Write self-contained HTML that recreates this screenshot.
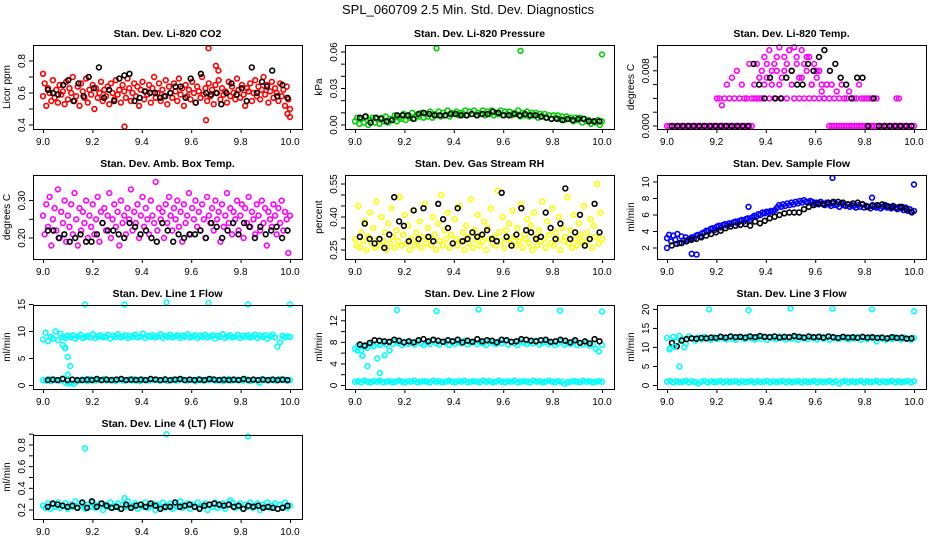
<!DOCTYPE html>
<html><head><meta charset="utf-8"><style>
body{margin:0;background:#fff}
svg{display:block;font-family:"Liberation Sans",sans-serif}
</style></head><body>
<svg id="chart" width="936" height="540" viewBox="0 0 936 540" xmlns="http://www.w3.org/2000/svg">
<rect width="936" height="540" fill="#fff"/>
<text x="468" y="14" font-size="13" text-anchor="middle">SPL_060709  2.5 Min. Std. Dev. Diagnostics</text>
</svg>
<script>
const xTicks=[9.0,9.2,9.4,9.6,9.8,10.0];
const xTickLabels=["9.0","9.2","9.4","9.6","9.8","10.0"];
const co2Red=[0.58,0.66,0.52,0.63,0.60,0.55,0.68,0.57,0.62,0.54,0.65,0.59,0.61,0.53,0.67,0.56,0.63,0.60,0.70,0.55,0.58,0.64,0.52,0.66,0.61,0.57,0.69,0.54,0.62,0.59,0.65,0.50,0.63,0.57,0.60,0.67,0.55,0.62,0.58,0.64,0.53,0.66,0.60,0.56,0.68,0.59,0.62,0.54,0.65,0.61,0.57,0.69,0.63,0.55,0.60,0.66,0.58,0.64,0.52,0.62,0.67,0.56,0.61,0.59,0.65,0.54,0.63,0.70,0.57,0.60,0.66,0.55,0.62,0.58,0.68,0.53,0.64,0.60,0.57,0.66,0.61,0.55,0.69,0.59,0.63,0.52,0.65,0.58,0.62,0.56,0.67,0.60,0.54,0.64,0.61,0.57,0.70,0.59,0.63,0.55,0.66,0.58,0.62,0.53,0.65,0.60,0.68,0.56,0.63,0.59,0.61,0.54,0.67,0.58,0.64,0.60,0.56,0.69,0.62,0.57,0.65,0.59,0.52,0.63,0.61,0.66,0.55,0.60,0.68,0.58,0.64,0.56,0.62,0.70,0.59,0.65,0.54,0.61,0.67,0.57,0.63,0.60,0.55,0.66,0.58,0.62,0.52,0.64,0.56,0.50];
const co2Black=[0.62,0.60,0.59,0.65,0.68,0.55,0.66,0.58,0.70,0.63,0.76,0.57,0.62,0.55,0.69,0.71,0.72,0.55,0.57,0.61,0.60,0.60,0.57,0.58,0.60,0.64,0.64,0.57,0.69,0.54,0.72,0.60,0.59,0.60,0.53,0.60,0.66,0.59,0.63,0.55,0.76,0.60,0.67,0.64,0.74,0.58,0.65,0.57];
const co2OutX=[9.0,9.33,9.67,9.66,9.70,9.71,10.0,9.99];
const co2OutY=[0.72,0.39,0.88,0.43,0.77,0.74,0.45,0.47];
const presGreen=[0.003,0.006,0.001,0.005,0.002,0.007,0.000,0.004,0.006,0.002,0.005,0.001,0.006,0.003,0.007,0.002,0.005,0.004,0.008,0.003,0.006,0.005,0.009,0.004,0.007,0.006,0.010,0.005,0.008,0.007,0.010,0.006,0.009,0.007,0.011,0.006,0.009,0.008,0.011,0.007,0.010,0.008,0.012,0.007,0.010,0.009,0.011,0.008,0.010,0.009,0.012,0.008,0.011,0.009,0.012,0.008,0.010,0.009,0.012,0.008,0.011,0.009,0.012,0.008,0.010,0.009,0.012,0.008,0.011,0.009,0.011,0.008,0.010,0.009,0.012,0.007,0.010,0.008,0.011,0.007,0.010,0.008,0.010,0.006,0.009,0.007,0.009,0.006,0.008,0.005,0.008,0.006,0.008,0.005,0.007,0.004,0.007,0.005,0.006,0.003,0.006,0.004,0.006,0.002,0.005,0.003,0.004,0.001,0.003,0.002,0.004,0.000,0.003];
const presBlack=[0.006,0.007,0.002,0.006,0.005,0.003,0.004,0.008,0.008,0.008,0.005,0.009,0.010,0.009,0.008,0.008,0.008,0.009,0.009,0.008,0.008,0.009,0.008,0.009,0.009,0.011,0.010,0.008,0.008,0.009,0.008,0.009,0.008,0.008,0.007,0.006,0.005,0.005,0.004,0.005,0.004,0.005,0.005,0.003,0.003,0.003];
const presOutX=[9.33,9.67,10.0];
const presOutY=[0.063,0.061,0.058];
const tempMagA=[0,0,0,0,0,0,0,0,0,0,0,0,0,0,0,0,0,0,0,0,0,0,0,0,0,0,0,0,0,0,0,0,0,0,0,0.006,0.009,0.004,0.008,0.010,0.007,0.011,0.006,0.009,0.008,0.0114,0.007,0.010,0.009,0.011,0.008,0.0114,0.010,0.007,0.011,0.009,0.008,0.010,0.006,0.009,0.007,0.008,0.005,0.004,0.006,0,0,0,0,0,0,0,0,0,0,0,0,0,0,0,0,0,0,0,0,0,0,0,0,0,0,0,0,0,0,0,0,0,0,0];
const tempMagB=[null,null,null,null,null,null,null,null,null,null,null,null,null,null,null,null,null,null,null,null,0.004,0.004,0.003,0.004,0.006,0.004,0.007,0.004,0.008,0.004,0.006,0.004,0.004,0.009,0.004,0.004,0.004,0.007,0.004,0.006,0.009,0.004,0.008,0.004,0.010,0.006,0.004,0.008,0.004,0.011,0.006,0.004,0.009,0.004,0.007,0.004,0.010,0.004,0.006,0.004,0.008,0.004,0.006,0.004,0.006,0.004,0.006,0.004,0.005,0.004,0.006,0.004,0.004,0.005,0.004,0.004,0.004,0.006,0.004,0.004,0.004,0.004,0.004,0.004,0.004,null,null,null,null,null,null,null,0.004,0.004,null,null,null,null,null,null];
const tempBlack=[0,0,0,0,0,0,0,0,0,0,0,0,0,0,0,0.009,0.006,0.004,0.007,0.004,0.004,0.007,0.008,0.006,0.006,0.009,0.008,0.010,0.011,0.008,0.009,0.007,0.006,0.004,0.007,0.007,0,0.004,0,0,0,0,0,0,0];
const ambMag=[0.26,0.21,0.29,0.23,0.31,0.18,0.25,0.28,0.22,0.33,0.20,0.27,0.24,0.30,0.19,0.26,0.23,0.29,0.21,0.32,0.25,0.18,0.28,0.22,0.27,0.24,0.30,0.20,0.26,0.23,0.29,0.21,0.25,0.31,0.19,0.27,0.24,0.28,0.22,0.26,0.32,0.20,0.25,0.29,0.23,0.27,0.18,0.30,0.24,0.26,0.21,0.28,0.25,0.33,0.22,0.27,0.24,0.29,0.20,0.26,0.31,0.23,0.28,0.25,0.21,0.30,0.26,0.24,0.35,0.22,0.28,0.25,0.27,0.20,0.29,0.24,0.31,0.26,0.22,0.28,0.25,0.30,0.23,0.27,0.19,0.29,0.24,0.26,0.32,0.21,0.28,0.25,0.30,0.23,0.27,0.22,0.29,0.25,0.20,0.31,0.26,0.24,0.28,0.22,0.30,0.25,0.27,0.19,0.29,0.23,0.26,0.32,0.24,0.28,0.21,0.27,0.25,0.30,0.22,0.26,0.29,0.20,0.28,0.24,0.31,0.23,0.27,0.25,0.21,0.29,0.26,0.22,0.30,0.24,0.28,0.18,0.27,0.25,0.23,0.29,0.26,0.21,0.28,0.24,0.30,0.22,0.27,0.25,0.16,0.26];
const ambBlack=[0.22,0.22,0.20,0.21,0.19,0.20,0.21,0.19,0.19,0.21,0.24,0.22,0.22,0.21,0.20,0.24,0.23,0.21,0.22,0.20,0.19,0.24,0.22,0.19,0.21,0.20,0.21,0.21,0.22,0.20,0.24,0.23,0.20,0.22,0.24,0.21,0.24,0.23,0.20,0.23,0.21,0.22,0.23,0.20,0.22];
const rhYellow=[0.30,0.27,0.45,0.26,0.33,0.29,0.38,0.25,0.31,0.42,0.28,0.35,0.26,0.47,0.30,0.27,0.40,0.29,0.33,0.25,0.37,0.28,0.44,0.31,0.26,0.34,0.29,0.49,0.27,0.32,0.41,0.28,0.36,0.25,0.30,0.43,0.27,0.33,0.29,0.38,0.26,0.31,0.46,0.28,0.35,0.30,0.27,0.40,0.32,0.25,0.37,0.29,0.50,0.27,0.34,0.30,0.42,0.26,0.32,0.28,0.39,0.30,0.27,0.45,0.29,0.33,0.25,0.36,0.31,0.28,0.48,0.26,0.34,0.30,0.41,0.27,0.32,0.29,0.38,0.25,0.35,0.30,0.44,0.28,0.31,0.27,0.52,0.33,0.29,0.40,0.26,0.34,0.30,0.37,0.28,0.43,0.31,0.27,0.35,0.29,0.46,0.26,0.32,0.30,0.39,0.28,0.36,0.25,0.42,0.31,0.27,0.34,0.29,0.47,0.30,0.26,0.38,0.32,0.28,0.44,0.27,0.33,0.30,0.40,0.25,0.35,0.29,0.31,0.49,0.28,0.34,0.26,0.41,0.30,0.27,0.37,0.32,0.29,0.45,0.28,0.33,0.30,0.39,0.26,0.36,0.31,0.55,0.28,0.42,0.30];
const rhBlack=[0.31,0.37,0.30,0.28,0.30,0.26,0.32,0.49,0.38,0.36,0.29,0.43,0.30,0.44,0.31,0.29,0.46,0.39,0.35,0.28,0.44,0.29,0.30,0.33,0.31,0.32,0.34,0.30,0.29,0.51,0.31,0.27,0.32,0.44,0.34,0.33,0.30,0.31,0.42,0.35,0.30,0.37,0.53,0.30,0.33,0.41,0.27,0.30,0.46,0.33];
const flowBlue=[3.2,3.6,2.8,3.5,3.0,3.7,2.6,3.4,2.9,3.3,3.0,3.1,3.3,3.2,3.5,3.6,3.4,3.8,3.9,4.1,4.0,4.3,4.4,4.2,4.6,4.7,4.5,4.8,4.9,4.7,5.0,4.9,5.1,5.2,5.0,5.3,5.4,5.2,5.5,5.6,5.4,5.7,5.9,5.8,6.1,6.0,6.3,6.2,6.4,6.3,6.5,6.4,6.6,6.9,7.2,7.0,7.3,7.1,7.4,7.2,7.5,7.3,7.6,7.4,7.7,7.5,7.8,7.6,7.5,7.7,7.6,7.4,7.5,7.3,7.6,7.4,7.2,7.5,7.3,7.1,7.4,7.2,7.3,7.0,7.4,7.2,7.1,7.3,7.0,7.2,7.1,6.9,7.2,7.0,7.3,6.9,7.1,7.0,6.8,7.2,7.0,6.9,7.1,6.8,7.0,7.2,6.9,7.0,6.8,7.1,6.9,6.7,7.0,6.8,6.6,6.9,6.5,6.7,6.3,6.5];
const flowBlack=[2.3,2.5,2.6,2.8,3.0,3.1,3.3,3.5,3.7,3.9,4.1,4.4,4.6,4.7,4.8,4.9,4.7,5.2,5.0,5.3,5.6,5.8,6.0,6.2,6.3,6.3,6.3,6.7,7.0,7.2,7.4,7.3,7.5,7.6,7.6,7.5,7.3,7.4,7.5,7.3,7.0,7.1,7.2,7.3,7.1,7.0,6.9,7.0,6.7,6.4];
const flowOutX=[9.0,9.1,9.12,9.33,9.67,9.83,10.0];
const flowOutY=[2.0,1.3,1.2,7.0,10.5,8.1,9.7];
const l1High=[8.5,9.8,8.2,9.0,8.7,10.0,8.4,9.6,9.0,8.8,9.2,8.9,9.3,8.7,9.1,9.4,8.8,9.0,9.2,8.9,9.5,8.8,9.1,9.3,8.9,9.0,9.4,8.7,9.2,9.0,9.5,8.9,9.1,9.3,8.8,9.2,9.0,9.4,8.9,9.1,9.6,8.8,9.2,9.0,9.3,8.9,9.1,9.5,8.8,9.2,9.0,9.4,8.9,9.1,9.3,8.8,9.2,9.0,9.5,8.9,9.1,9.3,8.8,9.2,9.0,9.4,8.9,9.1,9.3,8.7,9.2,9.0,9.5,8.8,9.1,9.3,8.9,9.0,9.4,8.8,9.2,9.0,9.3,8.9,9.1,9.4,8.8,9.2,9.0,9.3,8.7,9.1,9.4,8.9,7.2,8.0,9.2,8.9,9.1,9.0];
const l1Low=[1.0,0.9,1.2,0.8,1.1,1.0,0.9,1.3,0.6,0.4,0.5,0.3,0.7,0.9,1.1,1.0,0.8,1.2,1.0,0.9,1.1,1.0,1.2,0.9,1.0,1.1,0.8,1.0,1.2,0.9,1.0,1.1,0.9,1.2,1.0,0.8,1.1,1.0,0.9,1.2,1.0,1.1,0.9,1.0,1.2,0.8,1.0,1.1,0.9,1.0,1.2,1.0,0.9,1.1,1.0,0.8,1.2,1.0,0.9,1.1,1.0,1.2,0.9,1.0,1.1,0.8,1.0,1.2,0.9,1.0,1.1,1.0,0.9,1.2,1.0,0.8,1.1,1.0,0.5,1.2,1.0,0.9,1.1,1.0,0.9,1.2,1.0,1.1,0.9,1.0];
const l1Black=[1.0,1.1,1.0,1.2,1.0,1.1,1.0,1.0,1.1,1.0,1.2,1.0,1.1,1.0,1.1,1.2,1.0,1.1,1.0,1.1,1.0,1.2,1.1,1.0,1.1,1.0,1.1,1.2,1.0,1.1,1.0,1.1,1.0,1.2,1.1,1.0,1.1,1.0,1.1,1.0,1.2,1.0,1.1,1.0,1.1,1.0,1.1,1.0,1.1,1.0];
const l1OutX=[9.08,9.09,9.10,9.11,9.10,9.09,9.17,9.33,9.5,9.67,9.83,10.0];
const l1OutY=[7.5,6.9,5.3,3.6,2.0,7.0,15,15,15.4,15.3,15,15];
const l2High=[6.8,7.4,6.5,7.2,7.0,7.6,7.3,7.8,7.5,7.9,7.6,8.0,7.7,8.2,7.8,7.5,8.1,7.7,7.9,7.6,8.2,7.8,7.5,8.0,7.7,8.3,7.8,7.6,8.1,7.9,7.5,8.2,7.7,8.0,7.8,8.3,7.6,7.9,8.1,7.7,8.0,7.8,7.5,8.2,7.9,7.7,8.1,7.8,8.3,7.6,8.0,7.8,7.5,8.2,7.9,7.7,8.0,7.8,8.3,7.6,7.9,8.1,7.7,8.0,7.5,7.8,8.2,7.6,7.9,7.7,8.1,7.5,7.8,7.6,8.0,7.4,7.7,6.8,6.3,7.5];
const l2Low=[0.7,0.8,0.6,0.9,0.7,0.6,0.8,0.7,0.9,0.6,0.7,0.8,0.6,0.7,0.9,0.7,0.6,0.8,0.7,0.9,0.6,0.7,0.8,0.7,0.6,0.9,0.7,0.8,0.6,0.7,0.9,0.7,0.6,0.8,0.7,0.9,0.6,0.7,0.8,0.7,0.6,0.9,0.7,0.8,0.6,0.7,0.9,0.7,0.6,0.8,0.7,0.9,0.6,0.7,0.8,0.7,0.6,0.9,0.7,0.8,0.6,0.7,0.9,0.7,0.6,0.8,0.7,0.3,0.6,0.7,0.8,0.7,0.6,0.9,0.7,0.8,0.6,0.7,0.8,0.7];
const l2Black=[7.6,7.4,7.9,8.4,8.3,8.2,8.1,8.5,8.3,8.0,8.2,8.0,8.4,8.6,8.2,8.5,8.3,8.1,8.4,8.2,8.5,8.0,8.3,8.1,8.6,8.2,8.4,8.3,8.0,8.5,8.4,8.1,8.2,8.6,8.5,8.3,8.2,8.4,8.5,8.1,8.2,8.5,8.3,8.0,8.4,7.9,8.2,7.8,8.6,8.2];
const l2OutX=[9.01,9.03,9.05,9.09,9.10,9.12,9.14,9.17,9.33,9.5,9.67,9.83,10.0];
const l2OutY=[6.5,5.5,3.6,5.0,2.3,5.6,6.5,14,13.8,14.1,14.2,13.9,13.7];
const l3High=[12.5,9.8,12.8,11.5,13.0,12.2,11.0,12.9,12.4,11.8,12.6,12.1,12.8,12.3,12.0,12.6,12.2,12.9,12.4,12.1,12.7,12.3,12.0,12.8,12.5,12.2,12.9,12.4,12.1,12.7,12.3,12.6,12.0,12.8,12.4,12.2,12.9,12.5,12.1,12.7,12.3,12.6,12.0,12.8,12.4,12.2,12.7,12.5,12.1,12.9,12.3,12.6,12.0,12.8,12.4,12.2,12.7,12.5,12.1,12.6,12.3,12.8,12.0,12.5,12.2,12.7,12.4,11.6,12.6,12.3,12.0,12.5,12.2,12.7,12.4,12.1,12.6,12.3,12.0,12.5];
const l3Low=[1.0,1.2,0.8,1.1,0.9,1.0,1.2,0.8,1.1,0.9,0.5,1.0,1.2,0.8,1.1,0.9,1.0,1.2,0.8,1.1,0.9,1.0,1.2,0.8,1.1,0.9,1.0,1.2,0.8,1.1,0.9,1.0,1.2,0.8,1.1,0.9,1.0,1.2,0.8,1.1,0.9,1.0,1.2,0.8,1.1,0.9,1.0,1.2,0.8,1.1,0.9,1.0,1.2,0.8,1.1,0.5,1.0,1.2,0.8,1.1,0.9,1.0,1.2,0.8,1.1,0.9,1.0,1.2,0.8,1.1,0.9,1.0,1.2,0.8,1.1,0.9,1.0,1.2,0.8,1.1];
const l3Black=[11.2,10.3,11.8,12.2,12.4,12.3,12.5,12.4,12.6,12.5,12.8,12.6,12.9,12.7,12.8,12.6,12.9,12.7,13.0,12.8,12.7,12.9,12.6,12.8,12.7,13.0,12.8,12.6,12.9,12.7,12.8,12.6,12.9,12.7,12.5,12.8,12.6,12.7,12.5,12.8,12.6,12.7,12.5,12.6,12.4,12.7,12.5,12.6,12.3,12.4];
const l3OutX=[9.01,9.03,9.05,9.07,9.17,9.33,9.5,9.67,9.83,10.0];
const l3OutY=[9.5,10.2,5.0,10.0,20,19.8,20.3,20.2,20,19.5];
const l4Cyan=[0.24,0.22,0.26,0.21,0.25,0.23,0.27,0.22,0.24,0.26,0.21,0.25,0.23,0.28,0.22,0.24,0.26,0.21,0.25,0.23,0.27,0.22,0.24,0.26,0.20,0.25,0.23,0.27,0.22,0.24,0.26,0.21,0.25,0.23,0.28,0.22,0.24,0.26,0.21,0.25,0.23,0.27,0.22,0.24,0.26,0.20,0.25,0.23,0.27,0.22,0.24,0.26,0.21,0.25,0.23,0.28,0.22,0.24,0.26,0.21,0.25,0.23,0.27,0.22,0.24,0.26,0.20,0.25,0.23,0.27,0.22,0.24,0.26,0.21,0.25,0.29,0.27,0.22,0.24,0.26,0.21,0.25,0.23,0.27,0.22,0.24,0.26,0.20,0.25,0.23,0.27,0.22,0.24,0.26,0.21,0.25,0.23,0.27,0.22,0.24];
const l4Black=[0.23,0.26,0.25,0.24,0.23,0.24,0.22,0.27,0.22,0.28,0.23,0.26,0.24,0.22,0.23,0.21,0.25,0.22,0.24,0.25,0.23,0.26,0.24,0.21,0.23,0.23,0.27,0.23,0.24,0.25,0.23,0.21,0.24,0.25,0.26,0.25,0.24,0.25,0.23,0.24,0.21,0.24,0.23,0.24,0.22,0.23,0.22,0.21,0.22,0.24];
const l4OutX=[9.17,9.33,9.5,9.83];
const l4OutY=[0.77,0.31,0.90,0.88];

const panels=[
 {id:'co2',col:0,row:0,title:'Stan. Dev. Li-820 CO2',ylab:'Licor ppm',a:[0.4,125,0.8,61],ticks:[0.4,0.5,0.6,0.7,0.8],labels:['0.4','','0.6','','0.8'],
  series:[{c:'#ff0000',v:co2Red,x0:9,x1:10},{c:'#000',v:co2Black,x0:9.02,x1:9.99}],out:[{c:'#ff0000',x:co2OutX,y:co2OutY}]},
 {id:'pressure',col:1,row:0,title:'Stan. Dev. Li-820 Pressure',ylab:'kPa',a:[0,125,0.06,52],ticks:[0,0.01,0.02,0.03,0.04,0.05,0.06],labels:['0.00','','','0.03','','','0.06'],
  series:[{c:'#00d000',v:presGreen,x0:9,x1:10},{c:'#000',v:presBlack,x0:9.02,x1:9.99}],out:[{c:'#00d000',x:presOutX,y:presOutY}]},
 {id:'temp',col:2,row:0,title:'Stan. Dev. Li-820 Temp.',ylab:'degrees C',a:[0,126,0.008,70.8],ticks:[0,0.002,0.004,0.006,0.008,0.010],labels:['0.000','','','','0.008',''],
  series:[{c:'#ff00ff',v:tempMagA,x0:9,x1:10},{c:'#ff00ff',v:tempMagB,x0:9,x1:10},{c:'#000',v:tempBlack,x0:9.02,x1:9.99}],out:[]},
 {id:'amb-temp',col:0,row:1,title:'Stan. Dev. Amb. Box Temp.',ylab:'degrees C',a:[0.20,238,0.30,200.6],ticks:[0.20,0.25,0.30],labels:['0.20','','0.30'],
  series:[{c:'#ff00ff',v:ambMag,x0:9,x1:10},{c:'#000',v:ambBlack,x0:9.02,x1:9.99}],out:[]},
 {id:'rh',col:1,row:1,title:'Stan. Dev. Gas Stream RH',ylab:'percent',a:[0.25,250,0.55,184],ticks:[0.25,0.30,0.35,0.40,0.45,0.50,0.55],labels:['0.25','','','0.40','','','0.55'],
  series:[{c:'#ffff00',v:rhYellow,x0:9,x1:10},{c:'#000',v:rhBlack,x0:9.02,x1:9.99}],out:[]},
 {id:'sample-flow',col:2,row:1,title:'Stan. Dev. Sample Flow',ylab:'ml/min',a:[2,248,10,182],ticks:[2,4,6,8,10],labels:['2','4','6','8','10'],
  series:[{c:'#0000ff',v:flowBlue,x0:9,x1:10},{c:'#000',v:flowBlack,x0:9.02,x1:9.99}],out:[{c:'#0000ff',x:flowOutX,y:flowOutY}]},
 {id:'line1',col:0,row:2,title:'Stan. Dev. Line 1 Flow',ylab:'ml/min',a:[0,385.5,15,304.5],ticks:[0,5,10,15],labels:['0','5','10','15'],
  series:[{c:'#00ffff',v:l1High,x0:9,x1:10},{c:'#00ffff',v:l1Low,x0:9,x1:10},{c:'#000',v:l1Black,x0:9.02,x1:9.99}],out:[{c:'#00ffff',x:l1OutX,y:l1OutY}]},
 {id:'line2',col:1,row:2,title:'Stan. Dev. Line 2 Flow',ylab:'ml/min',a:[0,385.5,12,320.8],ticks:[0,2,4,6,8,10,12,14],labels:['0','','4','','8','','12',''],
  series:[{c:'#00ffff',v:l2High,x0:9,x1:10},{c:'#00ffff',v:l2Low,x0:9,x1:10},{c:'#000',v:l2Black,x0:9.02,x1:9.99}],out:[{c:'#00ffff',x:l2OutX,y:l2OutY}]},
 {id:'line3',col:2,row:2,title:'Stan. Dev. Line 3 Flow',ylab:'ml/min',a:[0,385.5,20,309.4],ticks:[0,5,10,15,20],labels:['0','5','10','15','20'],
  series:[{c:'#00ffff',v:l3High,x0:9,x1:10},{c:'#00ffff',v:l3Low,x0:9,x1:10},{c:'#000',v:l3Black,x0:9.02,x1:9.99}],out:[{c:'#00ffff',x:l3OutX,y:l3OutY}]},
 {id:'line4',col:0,row:3,title:'Stan. Dev. Line 4 (LT) Flow',ylab:'ml/min',a:[0.2,510,0.8,445],ticks:[0.2,0.3,0.4,0.5,0.6,0.7,0.8,0.9],labels:['0.2','','0.4','','0.6','','0.8',''],
  series:[{c:'#00ffff',v:l4Cyan,x0:9,x1:10},{c:'#000',v:l4Black,x0:9.02,x1:9.99}],out:[{c:'#00ffff',x:l4OutX,y:l4OutY}]}
];

const NS='http://www.w3.org/2000/svg';
const svg=document.getElementById('chart');
function mk(tag,attrs,parent){const e=document.createElementNS(NS,tag);for(const k in attrs)e.setAttribute(k,attrs[k]);(parent||svg).appendChild(e);return e;}

panels.forEach(p=>{
  const L=33+312*p.col, R=302+312*p.col, T=45+130*p.row, B=T+84;
  const xs=v=>43+312*p.col+(v-9)*247;
  const ys=v=>p.a[1]+(v-p.a[0])*(p.a[3]-p.a[1])/(p.a[2]-p.a[0]);
  const g=mk('g',{});
  
  
  const t=mk('text',{x:(L+R)/2,y:T-8,'font-size':10.5,'font-weight':'bold','text-anchor':'middle'},g);
  t.textContent=p.title;
  
  
  const pts=mk('g',{fill:'none','stroke-width':1.6},g);
  
  
  p.series.forEach(s=>{
    const n=s.v.length;
    s.v.forEach((v,i)=>{
      if(v===null)return;
      const c=mk('circle',{cx:xs(s.x0+(s.x1-s.x0)*i/(n-1)).toFixed(1),cy:ys(v).toFixed(1),r:2.4,stroke:s.c},pts);
      
      
    });
  });
  p.out.forEach(o=>{
    o.x.forEach((xv,i)=>{
      const c=mk('circle',{cx:xs(xv).toFixed(1),cy:ys(o.y[i]).toFixed(1),r:2.4,stroke:o.c},pts);
      
      
    });
  });
  const fr=mk('rect',{x:L+0.5,y:T+0.5,width:R-L,height:B-T,fill:'none',stroke:'#000','stroke-width':1},g);
  
  
  const xa=mk('g',{},g);
  
  
  mk('line',{x1:xs(9),x2:xs(10),y1:B+0.5,y2:B+0.5,stroke:'#000'},xa);
  xTicks.forEach((v,i)=>{
    mk('line',{x1:xs(v)+0.5,x2:xs(v)+0.5,y1:B,y2:B+4,stroke:'#000'},xa);
    const tl=mk('text',{x:xs(v),y:B+16,'font-size':10,'text-anchor':'middle'},xa);
    tl.textContent=xTickLabels[i];
    
    
  });
  const ya=mk('g',{},g);
  
  
  mk('line',{x1:L+0.5,x2:L+0.5,y1:ys(p.ticks[0]),y2:ys(p.ticks[p.ticks.length-1]),stroke:'#000'},ya);
  p.ticks.forEach((v,i)=>{
    const y=ys(v);
    mk('line',{x1:L-4,x2:L,y1:y,y2:y,stroke:'#000'},ya);
    if(p.labels[i]){
      const tl=mk('text',{x:L-8,y:y,'font-size':10,'text-anchor':'middle',transform:`rotate(-90 ${L-8} ${y})`},ya);
      tl.textContent=p.labels[i];
      
      
    }
  });
  const yl=mk('text',{x:L-23,y:(T+B)/2,'font-size':10,'text-anchor':'middle',transform:`rotate(-90 ${L-23} ${(T+B)/2})`},g);
  yl.textContent=p.ylab;
  
  
});
</script>
</body></html>
